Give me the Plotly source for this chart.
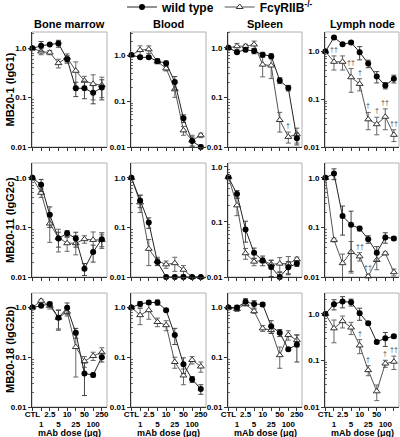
import math
import plotly.graph_objects as go

# ---------------- data ----------------
doses = ["CTL", "1", "2.5", "5", "10", "25", "50", "100", "250"]
tissues = ["Bone marrow", "Blood", "Spleen", "Lymph node"]
antibodies = ["MB20-1 (IgG1)", "MB20-11 (IgG2c)", "MB20-18 (IgG2b)"]
x_title = "mAb dose (μg)"

# each list: one sub-list per tissue (Bone marrow, Blood, Spleen, Lymph node)
wt_igg1 = [
    [1.0, 1.12, 1.2, 1.25, 0.6, 0.155, 0.155, 0.125, 0.16],
    [1.0, 0.89, 0.89, 0.74, 0.66, 0.26, 0.042, 0.0135, 0.01],
    [1.0, 0.82, 0.92, 0.86, 0.73, 0.68, 0.22, 0.155, 0.015],
    [1.0, 1.98, 1.43, 1.55, 0.97, 0.56, 0.30, 0.195, 0.27]]
wt_igg1_err = [
    [0, 0.25, 0.05, 0.2, 0.1, 0.05, 0.06, 0.05, 0.07],
    [0, 0.05, 0.05, 0.08, 0.08, 0.08, 0.008, 0.003, 0.001],
    [0, 0.05, 0.08, 0.1, 0.08, 0.08, 0.03, 0.02, 0.004],
    [0, 0.1, 0.1, 0.1, 0.3, 0.1, 0.08, 0.03, 0.05]]
ko_igg1 = [
    [1.0, 0.86, 0.82, 0.5, 0.65, 0.35, 0.22, 0.19, 0.18],
    [1.0, 1.28, 1.33, 0.72, 0.51, 0.18, 0.023, 0.014, 0.018],
    [1.0, 1.08, 1.08, 1.17, 0.46, 0.44, 0.035, 0.016, 0.018],
    [1.0, 0.61, 0.61, 0.29, 0.21, 0.038, 0.03, 0.043, 0.018]]
ko_igg1_err = [
    [0, 0.12, 0.08, 0.1, 0.12, 0.18, 0.05, 0.1, 0.08],
    [0, 0.3, 0.25, 0.08, 0.06, 0.06, 0.005, 0.004, 0.002],
    [0, 0.15, 0.1, 0.2, 0.2, 0.2, 0.015, 0.004, 0.006],
    [0, 0.2, 0.2, 0.15, 0.06, 0.015, 0.012, 0.02, 0.005]]

wt_igg2c = [
    [1.0, 0.73, 0.18, 0.06, 0.076, 0.06, 0.0147, 0.032, 0.058],
    [1.0, 0.35, 0.126, 0.02, 0.01, 0.01, 0.01, 0.01, 0.01],
    [0.65, 0.32, 0.073, 0.0275, 0.02, 0.0152, 0.01, 0.015, 0.0175],
    [1.0, 1.22, 0.17, 0.113, 0.095, 0.058, 0.031, 0.063, 0.06]]
wt_igg2c_err = [
    [0, 0.2, 0.08, 0.02, 0.01, 0.02, 0.004, 0.012, 0.02],
    [0, 0.1, 0.03, 0.003, 0, 0, 0, 0, 0],
    [0, 0.05, 0.03, 0.006, 0.004, 0.005, 0.002, 0.004, 0.002],
    [0, 0.3, 0.1, 0.1, 0.01, 0.01, 0.01, 0.015, 0.005]]
ko_igg2c = [
    [1.0, 0.5, 0.12, 0.062, 0.048, 0.048, 0.058, 0.056, 0.056],
    [1.0, 0.32, 0.037, 0.021, 0.018, 0.019, 0.014, 0.01, 0.01],
    [0.65, 0.2, 0.027, 0.019, 0.02, 0.017, 0.0175, 0.0175, 0.021],
    [1.0, 0.056, 0.019, 0.032, 0.026, 0.0103, 0.022, 0.03, 0.0125]]
ko_igg2c_err = [
    [0, 0.1, 0.07, 0.03, 0.015, 0.02, 0.01, 0.025, 0.015],
    [0, 0.12, 0.02, 0.004, 0.003, 0.006, 0.003, 0, 0],
    [0, 0.07, 0.006, 0.003, 0.002, 0.003, 0.005, 0.006, 0.002],
    [0, 0.005, 0.01, 0.02, 0.005, 0.001, 0.008, 0.002, 0.002]]

wt_igg2b = [
    [1.0, 1.08, 1.17, 0.62, 0.98, 0.31, 0.047, 0.044, 0.1],
    [1.0, 1.17, 1.26, 1.26, 0.88, 0.28, 0.072, 0.036, 0.023],
    [1.0, 1.0, 1.3, 1.17, 1.15, 0.42, 0.31, 0.145, 0.18],
    [1.0, 1.62, 1.85, 1.78, 1.03, 0.63, 0.25, 0.3, 0.33]]
wt_igg2b_err = [
    [0, 0.05, 0.1, 0.27, 0.25, 0.07, 0.03, 0.004, 0.02],
    [0, 0.15, 0.1, 0.15, 0.05, 0.1, 0.025, 0.005, 0.005],
    [0, 0.1, 0.2, 0.2, 0.1, 0.12, 0.05, 0.01, 0.1],
    [0, 0.4, 0.5, 0.3, 0.3, 0.05, 0.02, 0.1, 0.03]]
ko_igg2b = [
    [1.0, 1.36, 1.08, 0.62, 0.82, 0.16, 0.083, 0.106, 0.125],
    [1.0, 0.7, 0.88, 0.51, 0.44, 0.08, 0.043, 0.088, 0.065],
    [1.0, 0.93, 1.17, 0.84, 0.38, 0.35, 0.11, 0.28, 0.22],
    [1.0, 0.49, 0.7, 0.51, 0.21, 0.062, 0.0217, 0.086, 0.094]]
ko_igg2b_err = [
    [0, 0.1, 0.15, 0.25, 0.15, 0.12, 0.02, 0.02, 0.03],
    [0, 0.25, 0.3, 0.1, 0.1, 0.02, 0.015, 0.015, 0.015],
    [0, 0.1, 0.1, 0.08, 0.05, 0.05, 0.05, 0.06, 0.06],
    [0, 0.25, 0.2, 0.15, 0.07, 0.015, 0.008, 0.015, 0.03]]

# significance marks above the FcγRIIB-/- points
sig_igg1 = [[""] * 9, [""] * 9,
            ["", "", "", "", "", "", "", "†", ""],
            ["", "††", "", "††", "†", "†", "†", "††", "††"]]
sig_igg2c = [[""] * 9, [""] * 9, [""] * 9,
             ["", "", "", "", "††", "††", "", "", ""]]
sig_igg2b = [[""] * 9, [""] * 9, [""] * 9,
             ["", "", "", "", "†", "†", "", "†", "††"]]

wt_rows = [wt_igg1, wt_igg2c, wt_igg2b]
wt_err_rows = [wt_igg1_err, wt_igg2c_err, wt_igg2b_err]
ko_rows = [ko_igg1, ko_igg2c, ko_igg2b]
ko_err_rows = [ko_igg1_err, ko_igg2c_err, ko_igg2b_err]
sig_rows = [sig_igg1, sig_igg2c, sig_igg2b]

# ---------------- layout geometry ----------------
W, H = 400, 437
col_px = [(32, 107), (131, 206), (228, 302), (325, 399)]
row_px = [(32, 147), (163, 277), (293, 407)]
ytop = [[0.33, 0.5, 0.32, 0.41], [0.3, 0.3, 0.07, 0.3], [0.29, 0.29, 0.29, 0.45]]

FONT = "Liberation Sans, Arial, Helvetica, sans-serif"
ticktext = [d if i % 2 == 0 else "<br>" + d for i, d in enumerate(doses)]
xs = list(range(len(doses)))
minor_vals = [m * 10 ** e for e in (-2, -1, 0) for m in range(2, 10)]

fig = go.Figure()
layout = {}
shapes = []
annotations = []

for r in range(3):
    for c in range(4):
        k = r * 4 + c + 1
        xid = "x" if k == 1 else f"x{k}"
        yid = "y" if k == 1 else f"y{k}"
        xname = "xaxis" if k == 1 else f"xaxis{k}"
        yname = "yaxis" if k == 1 else f"yaxis{k}"
        x0, x1 = col_px[c]
        y0, y1 = row_px[r]
        layout[xname] = dict(
            domain=[x0 / W, x1 / W], anchor=yid, range=[-0.05, 8.6],
            tickmode="array", tickvals=xs, ticktext=ticktext, tickangle=0,
            showticklabels=(r == 2), ticks="outside", ticklen=3, tickwidth=1,
            ticklabelstandoff=-4,
            tickcolor="#333", showline=True, linecolor="#333", linewidth=1,
            showgrid=False, zeroline=False, automargin=False,
            tickfont=dict(family=FONT, size=8, color="black", weight="bold"),
        )
        layout[yname] = dict(
            domain=[1 - y1 / H, 1 - y0 / H], anchor=xid, type="log",
            range=[-2, ytop[r][c]], tickmode="array",
            tickvals=[0.01, 0.1, 1], ticktext=["0.01", "0.1", "1.0"],
            ticks="outside", ticklen=3, tickwidth=1, tickcolor="#333",
            minor=dict(tickmode="array", tickvals=minor_vals, ticks="inside",
                       ticklen=2, tickcolor="#666", showgrid=False),
            showline=True, linecolor="#333", linewidth=1,
            showgrid=False, zeroline=False, automargin=False,
            tickfont=dict(family=FONT, size=8, color="black", weight="bold"),
        )
        shapes.append(dict(type="rect", xref=f"{xid} domain", yref=f"{yid} domain",
                           x0=0, x1=1, y0=0, y1=1, layer="below",
                           line=dict(color="#b0b0b0", width=1)))

        ko = ko_rows[r][c]
        koe = ko_err_rows[r][c]
        wt = wt_rows[r][c]
        wte = wt_err_rows[r][c]
        fig.add_trace(go.Scatter(
            x=xs, y=ko, mode="lines+markers", name="FcγRIIB<sup>-/-</sup>",
            legendgroup="ko", showlegend=(k == 1), legendrank=2,
            line=dict(color="#555", width=1),
            marker=dict(symbol="triangle-up", size=6, color="white",
                        line=dict(color="#333", width=1)),
            error_y=dict(type="data", array=koe, symmetric=True,
                         color="#666", thickness=1, width=2.5),
            xaxis=xid, yaxis=yid, cliponaxis=False))
        fig.add_trace(go.Scatter(
            x=xs, y=wt, mode="lines+markers", name="wild type",
            legendgroup="wt", showlegend=(k == 1), legendrank=1,
            line=dict(color="#222", width=1),
            marker=dict(symbol="circle", size=6, color="black"),
            error_y=dict(type="data", array=wte, symmetric=True,
                         color="#444", thickness=1, width=2.5),
            xaxis=xid, yaxis=yid, cliponaxis=False))

        for i, s in enumerate(sig_rows[r][c]):
            if s:
                annotations.append(dict(
                    x=i, y=math.log10(ko[i] + koe[i]), xref=xid, yref=yid,
                    text=s, showarrow=False, xanchor="center", yanchor="bottom",
                    yshift=1, font=dict(family=FONT, size=7, color="#444")))

# column titles and x-axis titles
for c, t in enumerate(tissues):
    x0, x1 = col_px[c]
    annotations.append(dict(
        x=(x0 + x1) / 2 / W, y=1 - 24 / H, xref="paper", yref="paper",
        text=f"<b>{t}</b>", showarrow=False, xanchor="center", yanchor="middle",
        font=dict(family=FONT, size=11, color="black")))
    annotations.append(dict(
        x=(x0 + x1) / 2 / W, y=1 - 433 / H, xref="paper", yref="paper",
        text=f"<b>{x_title}</b>", showarrow=False, xanchor="center", yanchor="middle",
        font=dict(family=FONT, size=9, color="black")))
# row titles
for r, t in enumerate(antibodies):
    y0, y1 = row_px[r]
    annotations.append(dict(
        x=10 / W, y=1 - (y0 + y1) / 2 / H, xref="paper", yref="paper",
        text=f"<b>{t}</b>", showarrow=False, textangle=-90,
        xanchor="center", yanchor="middle",
        font=dict(family=FONT, size=11, color="black")))

fig.update_layout(
    width=W, height=H, margin=dict(l=0, r=0, t=0, b=0, autoexpand=False),
    paper_bgcolor="white", plot_bgcolor="white",
    shapes=shapes, annotations=annotations,
    legend=dict(orientation="h", x=0.305, y=1 - 7 / H, xanchor="left", yanchor="middle",
                itemwidth=30, tracegroupgap=0, bgcolor="rgba(0,0,0,0)",
                font=dict(family=FONT, size=12, color="black", weight="bold")),
    **layout)

fig.write_html("out.html", config={"displayModeBar": False},
               post_script="document.body.style.margin='0';document.body.style.overflow='hidden';")
